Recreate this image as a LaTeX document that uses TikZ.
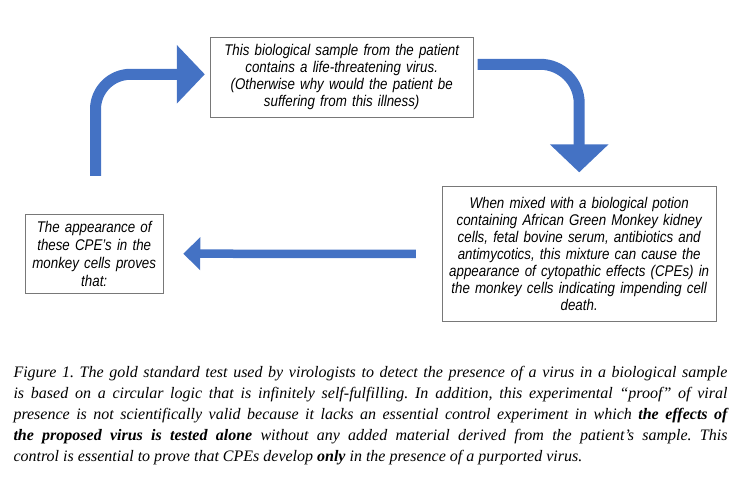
\documentclass[tikz,border=0pt]{standalone}
\usepackage{fontspec}
\setmainfont{Liberation Serif}
\newfontfamily\boxfont[FakeStretch=0.86]{Liberation Sans}
\usetikzlibrary{arrows.meta}
\definecolor{arrowblue}{RGB}{68,114,196}
\definecolor{boxgray}{RGB}{120,120,120}
\begin{document}
\frenchspacing
\begin{tikzpicture}[x=1pt,y=-1pt,
    box/.style={draw=boxgray, line width=0.8pt, fill=white, inner sep=0pt, align=center,
        font=\boxfont\itshape\fontsize{15.5}{16.9}\selectfont},
    bigarrow/.style={draw=arrowblue, line width=11pt, rounded corners=#1,
        -{Triangle[width=57pt,length=28pt]}},
    smallarrow/.style={draw=arrowblue, line width=8.5pt,
        -{Triangle[width=32pt,length=17pt]}}]
    \useasboundingbox (0,0) rectangle (753,484);

    % boxes
    \node[box, text width=263pt, minimum height=80pt] (sample) at (341.7,77.3)
        {This biological sample from the patient\\contains a life-threatening virus.\\(Otherwise why would the patient be\\suffering from this illness)};
    \node[box, text width=273.7pt, minimum height=134.3pt] (mix) at (579.2,253.9)
        {When mixed with a biological potion\\containing African Green Monkey kidney\\cells, fetal bovine serum, antibiotics and\\antimycotics, this mixture can cause the\\appearance of cytopathic effects (CPEs) in\\the monkey cells indicating impending cell\\death.};
    \node[box, text width=138.3pt, minimum height=79.3pt,
        font=\boxfont\itshape\fontsize{15.5}{17.9}\selectfont] (proof) at (94.2,253.7)
        {The appearance of\\these CPE’s in the\\monkey cells proves\\that:};

    % arrows
    \coordinate (start) at (95.5,176);
    \draw[bigarrow=35pt, shorten >=5pt] (start) |- ([yshift=3pt]sample.west);
    \draw[bigarrow=39pt, shorten <=4pt, shorten >=14pt] ([yshift=13pt]sample.east) -| (mix.north);
    \draw[smallarrow, shorten <=26pt, shorten >=19.5pt] (mix.west) -- (proof.east);

    % caption
    \node[anchor=north west, inner sep=0pt, text width=714pt, align=justify,
        font=\itshape\fontsize{16}{20.8}\selectfont] (caption) at (13.3,366.5)
        {Figure 1. The gold standard test used by virologists to detect the presence of a virus in a biological sample\linebreak
        is based on a circular logic that is infinitely self-fulfilling. In addition, this experimental “proof” of viral\linebreak
        presence is not scientifically valid because it lacks an essential control experiment in which \textbf{the effects of}\linebreak
        \textbf{the proposed virus is tested alone} without any added material derived from the patient’s sample. This\linebreak
        control is essential to prove that CPEs develop \textbf{only} in the presence of a purported virus.};
\end{tikzpicture}
\end{document}
